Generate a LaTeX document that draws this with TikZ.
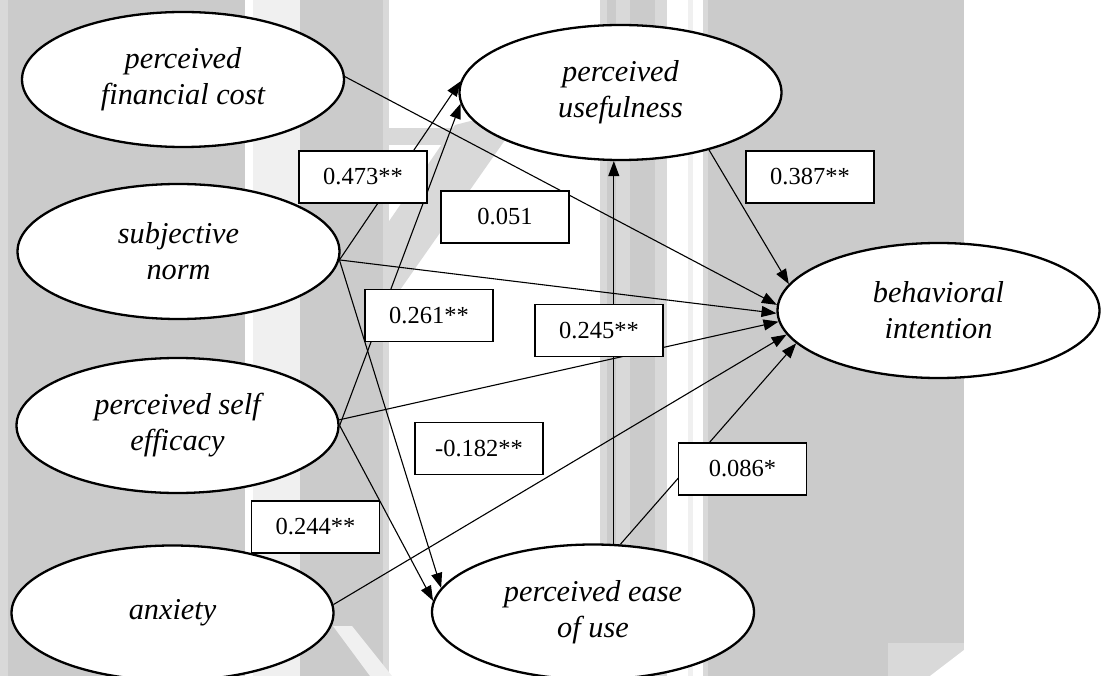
\documentclass[tikz,border=0pt]{standalone}
\usepackage{fontspec}
\setmainfont{Liberation Serif}
\usetikzlibrary{shapes.geometric,arrows.meta}

\definecolor{wmA}{HTML}{CBCBCB}
\definecolor{wmB}{HTML}{D9D9D9}
\definecolor{wmC}{HTML}{F0F0F0}

\begin{document}
\begin{tikzpicture}[x=1pt,y=-1pt,
  construct/.style={ellipse, draw, line width=2.3pt, fill=white,
    minimum width=322pt, minimum height=135pt, inner sep=0pt, align=center,
    font=\fontsize{30.3}{36}\selectfont\itshape},
  coef/.style={rectangle, draw, line width=1.2pt, fill=white,
    minimum width=128pt, minimum height=52pt, inner sep=0pt,
    font=\fontsize{24.5}{29}\selectfont},
  link/.style={line width=1.1pt, -{Triangle[length=15pt,width=11pt]}},
]
\useasboundingbox (0,0) rectangle (1102,676);

% faded background bands
\fill[wmB] (0,0) rectangle (8,676);
\fill[wmA] (8,0) rectangle (245,676);
\fill[wmC] (253,0) rectangle (300,676);
\fill[wmA] (300,0) rectangle (383,676);
\fill[wmB] (383,0) rectangle (389,676);
\fill[wmB] (383,290) -- (383,230) -- (455,125) -- (490,116) -- (505,140) -- (400,290) -- cycle;
\fill[wmB] (383,128) rectangle (455,145);
\fill[wmC] (333,626) -- (352,626) -- (392,676) -- (370,676) -- cycle;
\fill[wmB] (600,0) rectangle (667,676);
\fill[wmA] (607,0) rectangle (616,676);
\fill[wmA] (630,0) rectangle (655,676);
\fill[wmC] (688,0) rectangle (693,676);
\fill[wmB] (703,0) rectangle (708,676);
\fill[wmA] (708,0) rectangle (964,676);
\fill[wmB] (888,643) rectangle (964,676);
\fill[white] (930,676) -- (964,650) -- (964,676) -- cycle;

% constructs
\node[construct] (fin)    at (183,79.5)   {perceived\\financial cost};
\node[construct] (subj)   at (178.5,251.5) {subjective\\norm};
\node[construct] (self)   at (177.5,425.5) {perceived self\\efficacy};
\node[construct] (anx)    at (172.5,613)   {anxiety};
\node[construct] (useful) at (620.5,92.5)  {perceived\\usefulness};
\node[construct] (behav)  at (938.5,310.5) {behavioral\\intention};
\node[construct] (ease)   at (593,612)     {perceived ease\\of use};

% paths
\draw[link] (fin.1) -- (behav.178);
\draw[link] (subj.-3) -- (useful.176);
\draw[link] (subj.-3) -- (behav.181);
\draw[link] (subj.-3) -- (ease.171);
\draw[link] (self.east) -- (useful.184);
\draw[link] (self.2) -- (behav.184);
\draw[link] (self.east) -- (ease.176);
\draw[link] (anx.3) -- (behav.189);
\draw[link] (useful.-33) -- (behav.170);
\draw[link] (ease.73) -- (ease.73 |- useful.south);
\draw[link] (ease.68) -- (behav.193);

% path coefficients
\node[coef] (c473) at (363,177)   {0.473**};
\node[coef] (c051) at (505,217)   {0.051};
\node[coef] (c387) at (810,177)   {0.387**};
\node[coef] (c261) at (429,315.5) {0.261**};
\node[coef] (c245) at (599,330.5) {0.245**};
\node[coef] (c182) at (479,448.5) {-0.182**};
\node[coef] (c244) at (315.5,527) {0.244**};
\node[coef] (c086) at (742.5,469) {0.086*};
\end{tikzpicture}
\end{document}
